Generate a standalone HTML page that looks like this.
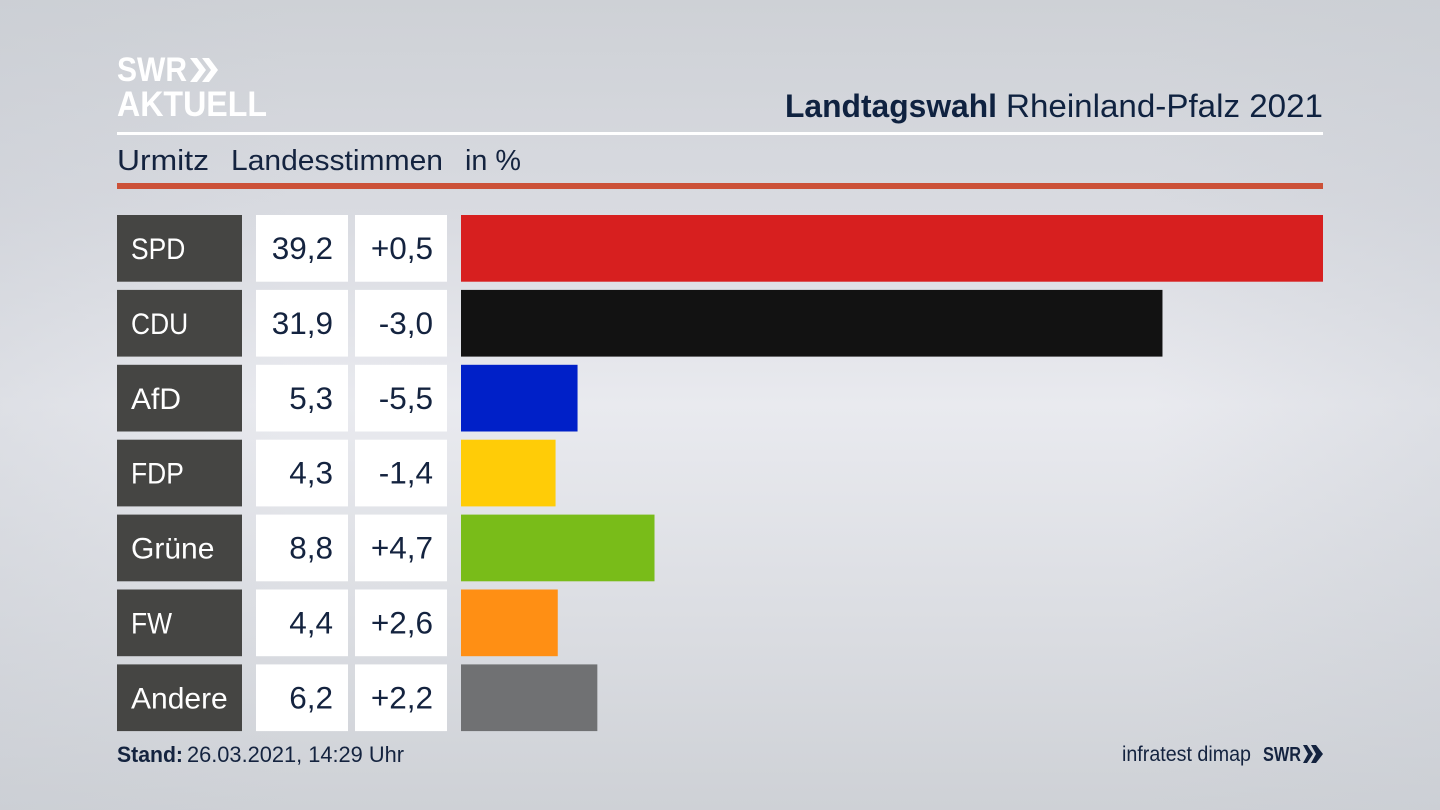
<!DOCTYPE html>
<html lang="de">
<head>
<meta charset="utf-8">
<title>Landtagswahl Rheinland-Pfalz 2021</title>
<style>
html,body{margin:0;padding:0;width:1440px;height:810px;overflow:hidden;background:#dcdee3}
svg{display:block}
text{font-family:"Liberation Sans",sans-serif}
</style>
</head>
<body>
<svg id="chart" width="1440" height="810" viewBox="0 0 1440 810" xmlns="http://www.w3.org/2000/svg">
  <defs>
    <linearGradient id="bgv" x1="0" y1="0" x2="0" y2="1">
      <stop offset="0" stop-color="#ced1d6"/>
      <stop offset="0.25" stop-color="#d8dae0"/>
      <stop offset="0.5" stop-color="#e9eaef"/>
      <stop offset="0.75" stop-color="#dcdee3"/>
      <stop offset="1" stop-color="#ced1d6"/>
    </linearGradient>
    <linearGradient id="bgh" x1="0" y1="0" x2="1" y2="0">
      <stop offset="0" stop-color="#c8ccd3" stop-opacity="0.35"/>
      <stop offset="0.2" stop-color="#c8ccd3" stop-opacity="0"/>
      <stop offset="0.8" stop-color="#c8ccd3" stop-opacity="0"/>
      <stop offset="1" stop-color="#c8ccd3" stop-opacity="0.35"/>
    </linearGradient>
  </defs>
  <rect width="1440" height="810" fill="url(#bgv)"/>
  <rect width="1440" height="810" fill="url(#bgh)"/>

  <g fill="#ffffff">
    <text x="117" y="81" font-size="34" font-weight="700" textLength="70" lengthAdjust="spacingAndGlyphs">SWR</text>
    <polygon points="190,58 197,58 206,70 197,82 190,82 199,70"/>
    <polygon points="202,58 209,58 218,70 209,82 202,82 211,70"/>
    <text x="117" y="116" font-size="35" font-weight="700" textLength="150" lengthAdjust="spacingAndGlyphs">AKTUELL</text>
  </g>

  <text x="785" y="117" font-size="32" font-weight="700" fill="#0f2240" textLength="212" lengthAdjust="spacingAndGlyphs">Landtagswahl</text>
  <text x="1006" y="117" font-size="32" fill="#0f2240" textLength="317" lengthAdjust="spacingAndGlyphs">Rheinland-Pfalz 2021</text>
  <rect x="117" y="132" width="1206" height="3" fill="#ffffff"/>

  <text x="117" y="170" font-size="29" fill="#14233f" textLength="92" lengthAdjust="spacingAndGlyphs">Urmitz</text>
  <text x="231" y="170" font-size="29" fill="#14233f" textLength="212" lengthAdjust="spacingAndGlyphs">Landesstimmen</text>
  <text x="465" y="170" font-size="29" fill="#14233f" textLength="56" lengthAdjust="spacingAndGlyphs">in %</text>
  <rect x="117" y="183" width="1206" height="6" fill="#cc5138"/>

  <g id="rows"></g>

  <text x="117" y="762" font-size="22" font-weight="700" fill="#14233f" textLength="66" lengthAdjust="spacingAndGlyphs">Stand:</text>
  <text x="187" y="762" font-size="22" fill="#14233f" textLength="217" lengthAdjust="spacingAndGlyphs">26.03.2021, 14:29 Uhr</text>

  <text x="1122" y="761" font-size="21" fill="#14233f" textLength="129" lengthAdjust="spacingAndGlyphs">infratest dimap</text>
  <g fill="#14233f">
    <text x="1263" y="761" font-size="20" font-weight="700" textLength="38" lengthAdjust="spacingAndGlyphs">SWR</text>
    <polygon points="1303,745 1307,745 1313,754 1307,763 1303,763 1308,754"/>
    <polygon points="1311,745 1316,745 1323,754 1316,763 1311,763 1316,754"/>
  </g>
</svg>
<script>
var parties = ["SPD", "CDU", "AfD", "FDP", "Grüne", "FW", "Andere"];
var shares = [39.2, 31.9, 5.3, 4.3, 8.8, 4.4, 6.2];
var changes = [0.5, -3.0, -5.5, -1.4, 4.7, 2.6, 2.2];
var partyColors = ["#d71f1f", "#121212", "#0020c8", "#ffcc07", "#79bc19", "#ff8f14", "#707173"];

var NS = "http://www.w3.org/2000/svg";
var rowsGroup = document.getElementById("rows");

function xScale(v) {
  return 862 * v / 39.2;
}
function yScale(i) {
  return 215 + i * 74.9;
}
function formatShare(v) {
  return v.toFixed(1).replace(".", ",");
}
function formatChange(v) {
  return (v > 0 ? "+" : "") + v.toFixed(1).replace(".", ",");
}
function makeRect(x, y, w, h, fill) {
  var r = document.createElementNS(NS, "rect");
  r.setAttribute("x", x);
  r.setAttribute("y", y);
  r.setAttribute("width", w);
  r.setAttribute("height", h);
  r.setAttribute("fill", fill);
  return r;
}
function makeText(x, y, str, fill, anchor, size) {
  var t = document.createElementNS(NS, "text");
  t.setAttribute("x", x);
  t.setAttribute("y", y);
  t.setAttribute("font-size", size);
  t.setAttribute("fill", fill);
  t.setAttribute("text-anchor", anchor);
  t.textContent = str;
  return t;
}

parties.forEach(function (party, i) {
  var y = yScale(i);
  var h = 66.7;
  var base = y + 44;

  var labelBox = makeRect(117, y, 125, h, "#454543");
  
  
  rowsGroup.appendChild(labelBox);

  var label = makeText(131, base, party, "#ffffff", "start", 30);
  
  
  rowsGroup.appendChild(label);
  if (party === party.toUpperCase()) {
    label.setAttribute("textLength", label.getComputedTextLength() * 0.88);
    label.setAttribute("lengthAdjust", "spacingAndGlyphs");
  }

  var shareBox = makeRect(256, y, 92, h, "#ffffff");
  
  
  rowsGroup.appendChild(shareBox);

  var shareText = makeText(333, base, formatShare(shares[i]), "#14233f", "end", 31.5);
  
  
  rowsGroup.appendChild(shareText);

  var changeBox = makeRect(355, y, 92, h, "#ffffff");
  
  
  rowsGroup.appendChild(changeBox);

  var changeText = makeText(433, base, formatChange(changes[i]), "#14233f", "end", 31.5);
  
  
  rowsGroup.appendChild(changeText);

  var bar = makeRect(461, y, xScale(shares[i]), h, partyColors[i]);
  
  
  rowsGroup.appendChild(bar);
});
</script>
</body>
</html>
